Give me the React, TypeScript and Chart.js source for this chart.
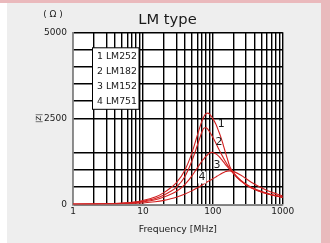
import React, { useEffect, useRef } from 'react';
import { Chart, registerables } from 'chart.js';

Chart.register(...registerables);

// ---- data ----
const frequencies = [1, 2, 3, 5, 7, 10, 15, 20, 25, 30, 40, 50, 60, 65, 70, 75, 80, 85, 90, 95, 100, 110, 120, 130, 140, 150, 160, 175, 200, 250, 350, 600, 1000];
const seriesNames = ['LM252', 'LM182', 'LM152', 'LM751'];
const lm252 = [4, 10, 18, 35, 60, 110, 210, 340, 480, 620, 1000, 1480, 2000, 2230, 2420, 2560, 2635, 2650, 2620, 2560, 2490, 2340, 2150, 1960, 1750, 1540, 1350, 1100, 910, 700, 500, 320, 215];
const lm182 = [3, 8, 14, 28, 48, 90, 170, 270, 380, 490, 810, 1250, 1710, 1920, 2110, 2220, 2225, 2180, 2110, 2030, 1950, 1790, 1630, 1490, 1370, 1260, 1160, 1040, 880, 680, 480, 305, 200];
const lm152 = [2, 6, 11, 22, 38, 70, 130, 210, 290, 370, 580, 820, 1060, 1160, 1260, 1330, 1400, 1450, 1490, 1508, 1505, 1470, 1410, 1330, 1250, 1170, 1100, 1010, 890, 690, 490, 305, 200];
const lm751 = [1, 4, 7, 14, 22, 40, 75, 115, 160, 205, 300, 390, 480, 520, 560, 595, 630, 660, 690, 715, 740, 790, 840, 880, 920, 945, 965, 970, 950, 850, 650, 400, 245];
const seriesValues = [lm252, lm182, lm152, lm751];

const xGridValues = [1, 2, 3, 4, 5, 6, 7, 8, 9, 10, 20, 30, 40, 50, 60, 70, 80, 90, 100, 200, 300, 400, 500, 600, 700, 800, 900, 1000];
const xTickLabels = [1, 10, 100, 1000];
const yGridValues = [0, 500, 1000, 1500, 2000, 2500, 3000, 3500, 4000, 4500, 5000];
const yTickLabels = [0, 2500, 5000];
const yHiddenGrid = [2000];
const curveLabelText = ['1', '2', '3', '4'];
const curveLabelFreq = [132, 123, 115, 70];
const curveLabelZ = [2330, 1800, 1130, 780];

const TITLE = 'LM type';
const UNIT = '( Ω )';
const X_TITLE = 'Frequency [MHz]';
const Y_TITLE = '|Z|';

const FONT = '"DejaVu Sans", sans-serif';
const RED = 'rgb(210, 32, 32)';
const PINK = '#eab9bc';
const PANEL = '#eeeeee';
const TEXT = '#1a1a1a';
const GRID = '#000000';

function stretchText(ctx: CanvasRenderingContext2D, text: string, x: number, y: number, sx: number, align: CanvasTextAlign) {
  ctx.save();
  ctx.translate(x, y);
  ctx.scale(sx, 1);
  ctx.textAlign = align;
  ctx.fillText(text, 0, 0);
  ctx.restore();
}

const overlay = {
  id: 'overlay',
  beforeDraw(chart: any) {
    const { ctx, chartArea: a } = chart;
    ctx.save();
    ctx.fillStyle = '#ffffff';
    ctx.fillRect(a.left, a.top, a.right - a.left, a.bottom - a.top);
    ctx.restore();
  },
  afterDraw(chart: any) {
    const { ctx, chartArea: a } = chart;
    ctx.save();
    ctx.fillStyle = TEXT;
    // title
    ctx.font = `14px ${FONT}`;
    ctx.textBaseline = 'alphabetic';
    stretchText(ctx, TITLE, 160.5, 20.5, 1.05, 'center');
    // unit
    ctx.font = `9px ${FONT}`;
    ctx.textBaseline = 'middle';
    stretchText(ctx, UNIT, 46, 12, 1.0, 'center');
    // legend box
    const lx = a.left + 19.5;
    const ly = a.top + 15.5;
    ctx.fillStyle = '#ffffff';
    ctx.fillRect(lx, ly, 46.5, 61.5);
    ctx.strokeStyle = '#000';
    ctx.lineWidth = 1;
    ctx.strokeRect(lx, ly, 46.5, 61.5);
    ctx.fillStyle = TEXT;
    ctx.font = `8.2px ${FONT}`;
    ctx.textBaseline = 'middle';
    seriesNames.forEach((n, i) => {
      stretchText(ctx, `${i + 1} ${n}`, lx + 4.5, ly + 9.2 + i * 15, 1.14, 'left');
    });
    // curve labels
    const xs = chart.scales.x;
    const ys = chart.scales.y;
    ctx.font = `11px ${FONT}`;
    curveLabelText.forEach((t, i) => {
      const px = xs.getPixelForValue(curveLabelFreq[i]);
      const py = ys.getPixelForValue(curveLabelZ[i]);
      if (i === 3) {
        ctx.fillStyle = '#ffffff';
        ctx.fillRect(px - 4, py - 6, 8, 12);
      }
      ctx.fillStyle = TEXT;
      stretchText(ctx, t, px, py, 1.0, 'center');
    });
    ctx.restore();
  },
};

export default function App() {
  const ref = useRef<HTMLCanvasElement>(null);
  useEffect(() => {
    const canvas = ref.current!;
    const chart = new Chart(canvas, {
      type: 'line',
      data: {
        datasets: seriesValues.map((vals, i) => ({
          label: seriesNames[i],
          data: frequencies.map((f, j) => ({ x: f, y: vals[j] })),
          borderColor: RED,
          backgroundColor: RED,
          borderWidth: 1.1,
          pointRadius: 0,
          fill: false,
          cubicInterpolationMode: 'monotone' as const,
        })),
      },
      options: {
        responsive: false,
        animation: false,
        devicePixelRatio: 1,
        layout: { padding: { top: 29.3, right: 38.3, left: 0, bottom: 0 } },
        plugins: { legend: { display: false }, title: { display: false }, tooltip: { enabled: false } },
        scales: {
          x: {
            type: 'logarithmic',
            min: 1,
            max: 1000,
            afterBuildTicks: (s: any) => {
              s.ticks = xGridValues.map((v) => ({ value: v }));
            },
            afterFit: (s: any) => {
              s.height = 38.7;
            },
            ticks: {
              autoSkip: false,
              maxRotation: 0,
              padding: 2,
              color: TEXT,
              font: { family: FONT, size: 9 },
              callback: (v: any) => (xTickLabels.includes(Number(v)) ? String(v) : ''),
            },
            grid: { color: GRID, lineWidth: 1.4, drawTicks: false },
            border: { color: '#888', width: 1.6 },
            title: { display: true, text: X_TITLE, color: TEXT, font: { family: FONT, size: 9.3 }, padding: { top: 0, bottom: 8 } },
          },
          y: {
            type: 'linear',
            min: 0,
            max: 5000,
            afterBuildTicks: (s: any) => {
              s.ticks = yGridValues.map((v) => ({ value: v }));
            },
            afterFit: (s: any) => {
              s.width = 66;
            },
            ticks: {
              autoSkip: false,
              padding: 6,
              color: TEXT,
              font: { family: FONT, size: 9 },
              callback: (v: any) => (yTickLabels.includes(Number(v)) ? String(v) : ''),
            },
            grid: {
              drawTicks: false,
              lineWidth: 1.4,
              color: (c: any) => (c.tick && yHiddenGrid.includes(c.tick.value) ? 'rgba(0,0,0,0)' : GRID),
            },
            border: { color: '#888', width: 1.6 },
            title: { display: true, text: Y_TITLE, color: TEXT, font: { family: FONT, size: 7 }, padding: { top: 27.8, bottom: 0 } },
          },
        },
      },
      plugins: [overlay],
    } as any);
    return () => chart.destroy();
  }, []);

  return (
    <div style={{ position: 'absolute', left: 0, top: 0, width: 330, height: 243, background: '#ffffff', overflow: 'hidden' }}>
      <div style={{ position: 'absolute', left: 0, top: 0, width: 330, height: 3, background: PINK }} />
      <div style={{ position: 'absolute', left: 321, top: 0, width: 9, height: 243, background: PINK }} />
      <div style={{ position: 'absolute', left: 7, top: 3, width: 314, height: 240, background: PANEL }}>
        <canvas ref={ref} width={314} height={240} style={{ display: 'block', width: 314, height: 240 }} />
      </div>
    </div>
  );
}
